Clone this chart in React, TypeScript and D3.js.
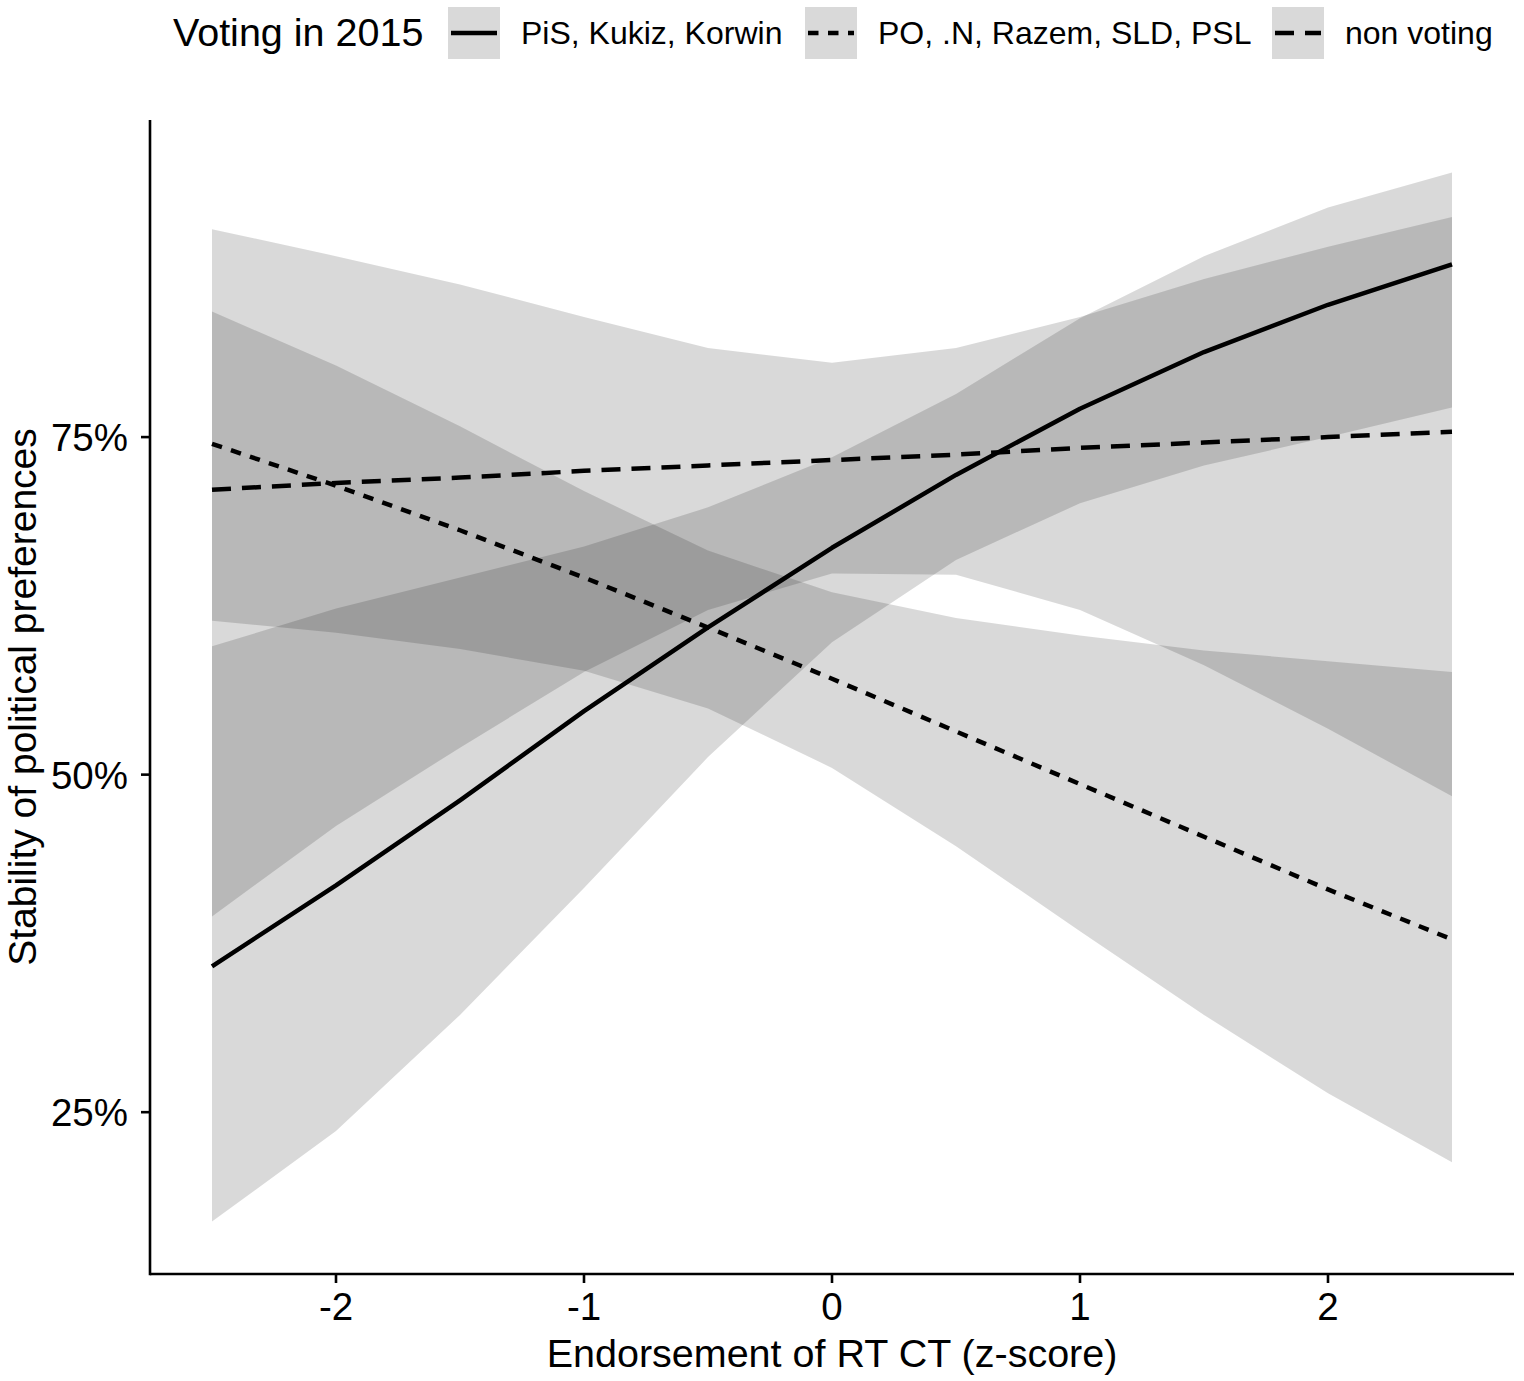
import React from "react";
import * as d3 from "d3";

// ---- data ----
const xValues = [-2.5, -2, -1.5, -1, -0.5, 0, 0.5, 1, 1.5, 2, 2.5];
const groupNames = ["PiS, Kukiz, Korwin", "PO, .N, Razem, SLD, PSL", "non voting"];

const pisFit = [35.8, 41.8, 48.1, 54.7, 60.9, 66.8, 72.2, 77.1, 81.3, 84.8, 87.8];
const pisLow = [16.9, 23.6, 32.2, 41.6, 51.3, 59.8, 65.9, 70.1, 72.9, 75.0, 77.2];
const pisHigh = [59.5, 62.3, 64.6, 66.9, 69.8, 73.5, 78.2, 83.8, 88.4, 92.0, 94.6];

const poFit = [74.5, 71.4, 68.1, 64.6, 60.9, 57.1, 53.2, 49.3, 45.4, 41.5, 37.8];
const poLow = [61.4, 60.5, 59.3, 57.7, 54.9, 50.5, 44.7, 38.4, 32.2, 26.4, 21.3];
const poHigh = [84.3, 80.3, 75.8, 71.0, 66.6, 63.5, 61.6, 60.3, 59.2, 58.4, 57.6];

const nonFit = [71.1, 71.6, 72.0, 72.5, 72.9, 73.3, 73.7, 74.2, 74.6, 75.0, 75.4];
const nonLow = [39.5, 46.2, 52.0, 57.6, 62.2, 64.9, 64.8, 62.2, 58.1, 53.4, 48.4];
const nonHigh = [90.4, 88.4, 86.3, 83.9, 81.6, 80.5, 81.6, 83.9, 86.7, 89.1, 91.3];

const xTickValues = [-2, -1, 0, 1, 2];
const yTickValues = [0.25, 0.5, 0.75];

const legendTitle = "Voting in 2015";
const xTitle = "Endorsement of RT CT (z-score)";
const yTitle = "Stability of political preferences";

// ---- styles ----
const FONT = "'Liberation Sans', Arial, Helvetica, sans-serif";
const dashes = ["", "10.5 9.5", "19 11"];

type Row = { x: number; fit: number; low: number; high: number };

function build(fit: number[], low: number[], high: number[]): Row[] {
  return xValues.map((x, i) => ({ x, fit: fit[i] / 100, low: low[i] / 100, high: high[i] / 100 }));
}

const series = [
  { name: groupNames[0], rows: build(pisFit, pisLow, pisHigh), dash: dashes[0] },
  { name: groupNames[1], rows: build(poFit, poLow, poHigh), dash: dashes[1] },
  { name: groupNames[2], rows: build(nonFit, nonLow, nonHigh), dash: dashes[2] },
];

export default function App() {
  const W = 1524;
  const H = 1381;
  const left = 150;
  const right = 1514;
  const top = 120;
  const bottom = 1274;

  const xExt = d3.extent(xValues) as [number, number];
  const xPad = (xExt[1] - xExt[0]) * 0.05;
  const x = d3.scaleLinear().domain([xExt[0] - xPad, xExt[1] + xPad]).range([left, right]);

  const allY = series.flatMap((s) => s.rows.flatMap((r) => [r.low, r.high]));
  const yExt = d3.extent(allY) as [number, number];
  const yPad = (yExt[1] - yExt[0]) * 0.05;
  const y = d3.scaleLinear().domain([yExt[0] - yPad, yExt[1] + yPad]).range([bottom, top]);

  const area = d3
    .area<Row>()
    .x((d) => x(d.x))
    .y0((d) => y(d.low))
    .y1((d) => y(d.high));
  const line = d3
    .line<Row>()
    .x((d) => x(d.x))
    .y((d) => y(d.fit));

  const pct = d3.format(".0%");
  const axisW = 2.6;
  const lineW = 4.5;

  const legendKeysX = [448, 805, 1272];

  return (
    <svg
      width={W}
      height={H}
      viewBox={`0 0 ${W} ${H}`}
      style={{ position: "absolute", left: 0, top: 0, background: "#fff" }}
      fontFamily={FONT}
    >
      <rect x={0} y={0} width={W} height={H} fill="#fff" />

      {/* ribbons */}
      {series.map((s) => (
        <path key={"r" + s.name} d={area(s.rows) || ""} fill="#000" fillOpacity={0.15} stroke="none" />
      ))}

      {/* lines */}
      {series.map((s) => (
        <path
          key={"l" + s.name}
          d={line(s.rows) || ""}
          fill="none"
          stroke="#000"
          strokeWidth={lineW}
          strokeDasharray={s.dash || undefined}
          strokeLinecap="butt"
          strokeLinejoin="round"
        />
      ))}

      {/* axes */}
      <line x1={left} x2={right} y1={bottom} y2={bottom} stroke="#000" strokeWidth={axisW} />
      <line x1={left} x2={left} y1={top} y2={bottom + axisW / 2} stroke="#000" strokeWidth={axisW} />

      {xTickValues.map((t) => (
        <g key={"xt" + t}>
          <line x1={x(t)} x2={x(t)} y1={bottom} y2={bottom + 9} stroke="#000" strokeWidth={axisW} />
          <text x={x(t)} y={bottom + 46} fontSize={38.5} textAnchor="middle" fill="#000">
            {t < 0 ? "-" + Math.abs(t) : String(t)}
          </text>
        </g>
      ))}

      {yTickValues.map((t) => (
        <g key={"yt" + t}>
          <line x1={left - 9} x2={left} y1={y(t)} y2={y(t)} stroke="#000" strokeWidth={axisW} />
          <text x={left - 22} y={y(t) + 14} fontSize={38.5} textAnchor="end" fill="#000">
            {pct(t)}
          </text>
        </g>
      ))}

      {/* axis titles */}
      <text x={(left + right) / 2} y={1367} fontSize={39.5} textAnchor="middle" fill="#000">
        {xTitle}
      </text>
      <text
        transform={`translate(${36}, ${(top + bottom) / 2}) rotate(-90)`}
        fontSize={39}
        textAnchor="middle"
        fill="#000"
      >
        {yTitle}
      </text>

      {/* legend */}
      <text x={173} y={46} fontSize={39.5} fill="#000">
        {legendTitle}
      </text>
      {series.map((s, i) => {
        const kx = legendKeysX[i];
        return (
          <g key={"lg" + s.name}>
            <rect x={kx} y={7} width={52} height={52} fill="#000" fillOpacity={0.15} />
            <line
              x1={kx + 3}
              x2={kx + 49}
              y1={33}
              y2={33}
              stroke="#000"
              strokeWidth={lineW}
              strokeDasharray={s.dash || undefined}
            />
            <text x={kx + 73} y={44} fontSize={32} fill="#000">
              {s.name}
            </text>
          </g>
        );
      })}
    </svg>
  );
}
